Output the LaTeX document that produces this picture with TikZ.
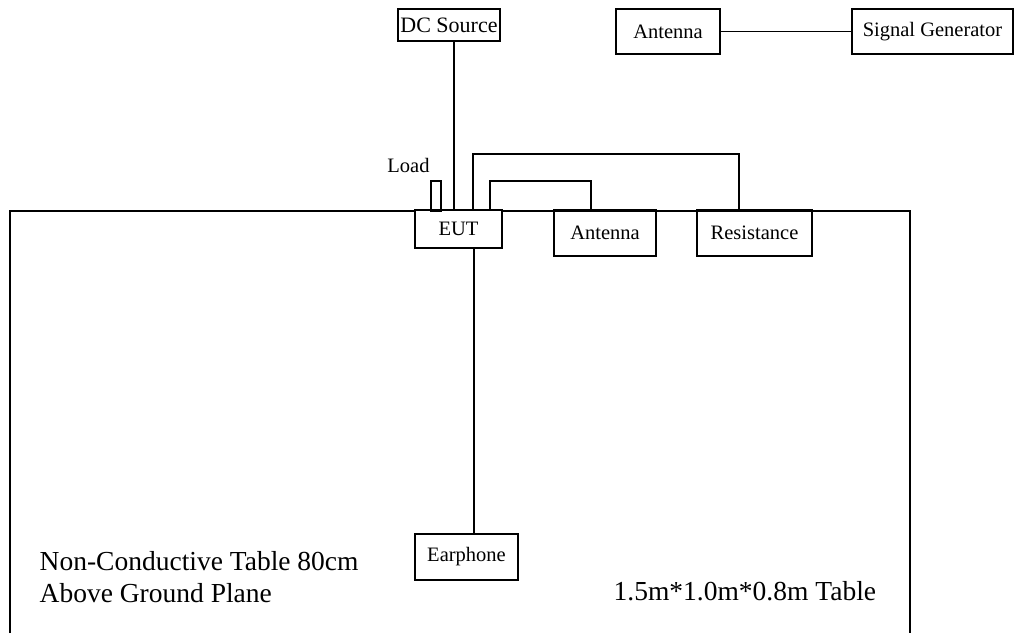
\documentclass[tikz,border=0pt]{standalone}
\usepackage{fontspec}
\setmainfont{Liberation Serif}
\usetikzlibrary{calc}
\begin{document}
\begin{tikzpicture}[x=1pt,y=-1pt,
  line width=1.4pt,
  boxnode/.style={draw,inner sep=0pt,font=\fontsize{20.5}{24}\selectfont},
  bigtext/.style={inner sep=0pt,font=\fontsize{27.5}{32}\selectfont},
  smalltext/.style={inner sep=0pt,font=\fontsize{20.5}{24}\selectfont}]
\useasboundingbox (0,0) rectangle (1015,633);
% table outline
\draw (10,633) -- (10,211) -- (910,211) -- (910,633);
% boxes
\node[boxnode,font=\fontsize{22}{26}\selectfont,minimum width=102pt,minimum height=32pt] (dc) at (449,25) {DC Source};
\node[boxnode,minimum width=104pt,minimum height=45pt] (ant1) at (668,31.5) {Antenna};
\node[boxnode,minimum width=161pt,minimum height=45pt] (sig) at (932.5,31.5) {Signal Generator};
\node[boxnode,fill=white,minimum width=87pt,minimum height=38pt] (eut) at (458.5,229) {EUT};
\node[boxnode,minimum width=102pt,minimum height=46pt] (ant2) at (605,233) {Antenna};
\node[boxnode,minimum width=115pt,minimum height=46pt] (res) at (754.5,233) {Resistance};
\node[boxnode,minimum width=103pt,minimum height=46pt] (ear) at (466.5,557) {Earphone};
\node[draw,inner sep=0pt,minimum width=10pt,minimum height=30pt] (load) at (436,196) {};
\node[smalltext,anchor=base] (loadtxt) at (408.5,172) {Load};
% texts
\node[bigtext,anchor=base west] (t1) at (39,570) {Non-Conductive Table 80cm};
\node[bigtext,anchor=base west] (t2) at (39,602) {Above Ground Plane};
\node[bigtext,anchor=base west] (t3) at (613,600) {1.5m*1.0m*0.8m Table};
% connector reference coordinates
\coordinate (xdc) at (454,0);
\coordinate (xres) at (473,154);
\coordinate (xant) at (490,181);
\coordinate (xresin) at (739,0);
\coordinate (xantin) at (591,0);
\coordinate (xear) at (474,0);
% connectors
\draw (xdc |- dc.south) -- (xdc |- eut.north);
\draw (ant1.east) -- (sig.west);
\draw (xres |- eut.north) -- (xres) -| (xresin |- res.north);
\draw (xant |- eut.north) -- (xant) -| (xantin |- ant2.north);
\draw (xear |- eut.south) -- (xear |- ear.north);
\end{tikzpicture}
\end{document}
